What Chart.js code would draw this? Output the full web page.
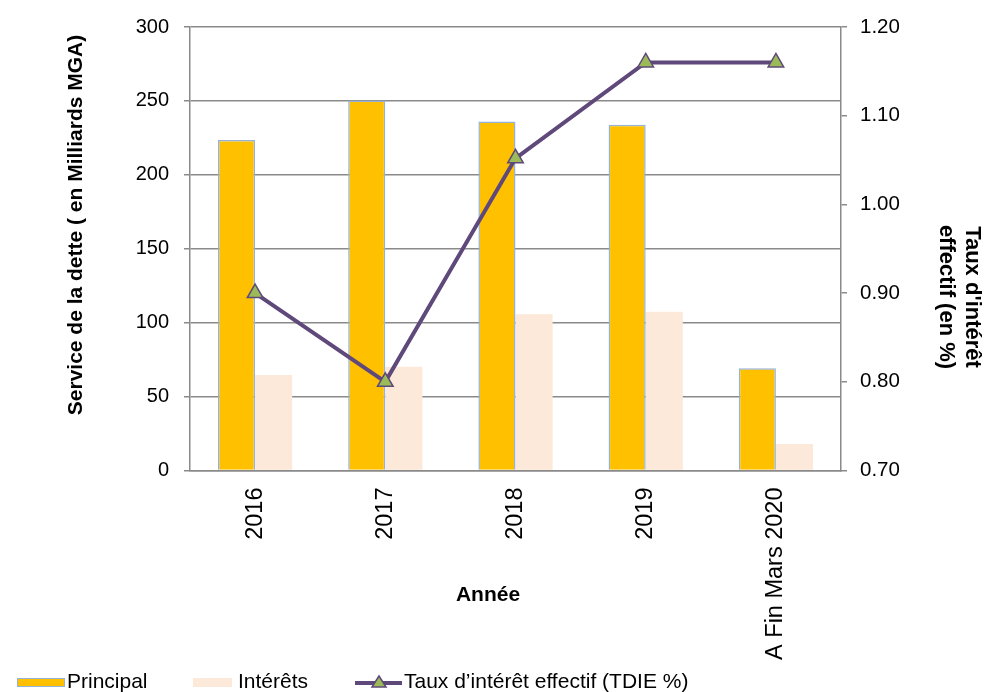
<!DOCTYPE html>
<html>
<head>
<meta charset="utf-8">
<title>Service de la dette</title>
<script src="https://cdn.jsdelivr.net/npm/chart.js@4.4.1/dist/chart.umd.min.js"></script>
<style>
	html, body { margin: 0; padding: 0; background: #fff; }
	#wrap { position: relative; width: 985px; height: 692px; overflow: hidden; }
	#chart { position: absolute; left: 0; top: 0; }
	#legend { position: absolute; left: 0; top: 0; width: 985px; height: 692px; pointer-events: none;
		font-family: "Liberation Sans", Arial, sans-serif; font-size: 21px; line-height: 1; color: #000; }
	.swatch { position: absolute; box-sizing: border-box; }
	.label { position: absolute; top: 670px; white-space: nowrap; }
</style>
</head>
<body>
<div id="wrap">
	<canvas id="chart" width="985" height="692"></canvas>
	<div id="legend"></div>
</div>
<script>
const categories = ["2016", "2017", "2018", "2019", "A Fin Mars 2020"];
const principal = [223.6, 250.2, 236, 233.8, 69.1];
const interets = [64.6, 70.2, 105.7, 107.4, 17.9];
const tdie = [0.90, 0.80, 1.052, 1.16, 1.16];

const seriesNames = ["Principal", "Intérêts", "Taux d’intérêt effectif (TDIE %)"];
const leftTitle = "Service de la dette ( en Milliards MGA)";
const rightTitle = ["Taux d'intérêt", "effectif (en %)"];
const xTitle = "Année";

const gridColor = "#8a8a8a";
const plotLeft = 190;
const plotRight = 841;
const plotTop = 27;
const plotBottom = 470.5;

const font = "'Liberation Sans', Arial, sans-serif";

// axis titles sit where Excel put them, not at the scale centre
const titlePlugin = {
	id: "titles",
	afterDraw(chart) {
		const ctx = chart.ctx;
		ctx.save();
		ctx.fillStyle = "#000";
		ctx.textAlign = "center";
		ctx.textBaseline = "middle";

		ctx.save();
		ctx.translate(76, 225);
		ctx.rotate(-Math.PI / 2);
		ctx.font = "bold 21px " + font;
		ctx.fillText(leftTitle, 0, 0);
		ctx.restore();

		ctx.save();
		ctx.translate(959, 297);
		ctx.rotate(Math.PI / 2);
		ctx.font = "bold 22px " + font;
		ctx.fillText(rightTitle[0], 0, -13);
		ctx.fillText(rightTitle[1], 0, 13);
		ctx.restore();

		ctx.font = "bold 21px " + font;
		ctx.fillText(xTitle, 488, 595);
		ctx.restore();
	},
};

const ctx = document.getElementById("chart").getContext("2d");

new Chart(ctx, {
	type: "bar",
	data: {
		labels: categories,
		datasets: [
			{
				type: "line",
				label: seriesNames[2],
				data: tdie,
				yAxisID: "y1",
				order: 0,
				borderColor: "#5F497A",
				borderWidth: 4,
				tension: 0,
				pointStyle: "triangle",
				pointRadius: 9,
				pointBackgroundColor: "#9BBB59",
				pointBorderColor: "#5F497A",
				pointBorderWidth: 1.5,
			},
			{
				label: seriesNames[0],
				data: principal,
				yAxisID: "y",
				order: 1,
				backgroundColor: "#FFC000",
				borderColor: "#95B3D7",
				borderWidth: 1.5,
				categoryPercentage: 0.57,
				barPercentage: 1,
			},
			{
				label: seriesNames[1],
				data: interets,
				yAxisID: "y",
				order: 1,
				backgroundColor: "#FDE9D9",
				borderWidth: 0,
				categoryPercentage: 0.57,
				barPercentage: 1,
			},
		],
	},
	options: {
		responsive: false,
		animation: false,
		layout: { padding: { top: plotTop, left: 0, right: 0, bottom: 0 } },
		plugins: {
			legend: { display: false },
			tooltip: { enabled: false },
		},
		scales: {
			x: {
				offset: true,
				grid: { display: false, drawTicks: false },
				border: { display: true, color: gridColor, width: 1.5 },
				ticks: {
					autoSkip: false,
					minRotation: 90,
					maxRotation: 90,
					padding: 17,
					color: "#000",
					font: { family: font, size: 23.5 },
				},
				afterFit: scale => { scale.height = 692 - plotBottom; },
			},
			y: {
				position: "left",
				min: 0,
				max: 300,
				ticks: {
					stepSize: 50,
					padding: 15,
					color: "#000",
					font: { family: font, size: 20 },
				},
				grid: { color: gridColor, lineWidth: 1.5, tickLength: 6 },
				border: { color: gridColor, width: 1.5 },
				afterFit: scale => { scale.width = plotLeft; },
			},
			y1: {
				position: "right",
				min: 0.7,
				max: 1.2,
				ticks: {
					stepSize: 0.1,
					padding: 13,
					color: "#000",
					font: { family: font, size: 20.5 },
					callback: v => v.toFixed(2),
				},
				grid: { drawOnChartArea: false, color: gridColor, lineWidth: 1.5, tickLength: 6 },
				border: { color: gridColor, width: 1.5 },
				afterFit: scale => { scale.width = 985 - plotRight; },
			},
		},
	},
	plugins: [titlePlugin],
});

// legend in the page, laid out like the Excel one
function buildLegend() {
	const legendEl = document.getElementById("legend");

	const box1 = document.createElement("div");
	box1.className = "swatch";
	Object.assign(box1.style, { left: "17px", top: "678px", width: "48px", height: "9px",
		background: "#FFC000", border: "1.5px solid #95B3D7" });

	const text1 = document.createElement("span");
	text1.className = "label";
	text1.style.left = "67px";
	text1.textContent = seriesNames[0];

	const box2 = document.createElement("div");
	box2.className = "swatch";
	Object.assign(box2.style, { left: "193px", top: "678px", width: "39px", height: "9px",
		background: "#FDE9D9" });

	const text2 = document.createElement("span");
	text2.className = "label";
	text2.style.left = "238px";
	text2.textContent = seriesNames[1];

	const lineSym = document.createElementNS("http://www.w3.org/2000/svg", "svg");
	lineSym.setAttribute("width", "50");
	lineSym.setAttribute("height", "20");
	lineSym.style.position = "absolute";
	lineSym.style.left = "354px";
	lineSym.style.top = "673px";
	lineSym.innerHTML =
		'<line x1="1" y1="10" x2="48" y2="10" stroke="#5F497A" stroke-width="4"/>' +
		'<polygon points="25,3 32,14 18,14" fill="#9BBB59" stroke="#5F497A" stroke-width="1.5"/>';

	const text3 = document.createElement("span");
	text3.className = "label";
	text3.style.left = "404px";
	text3.textContent = seriesNames[2];

	legendEl.append(box1, text1, box2, text2, lineSym, text3);
}

buildLegend();
</script>
</body>
</html>
